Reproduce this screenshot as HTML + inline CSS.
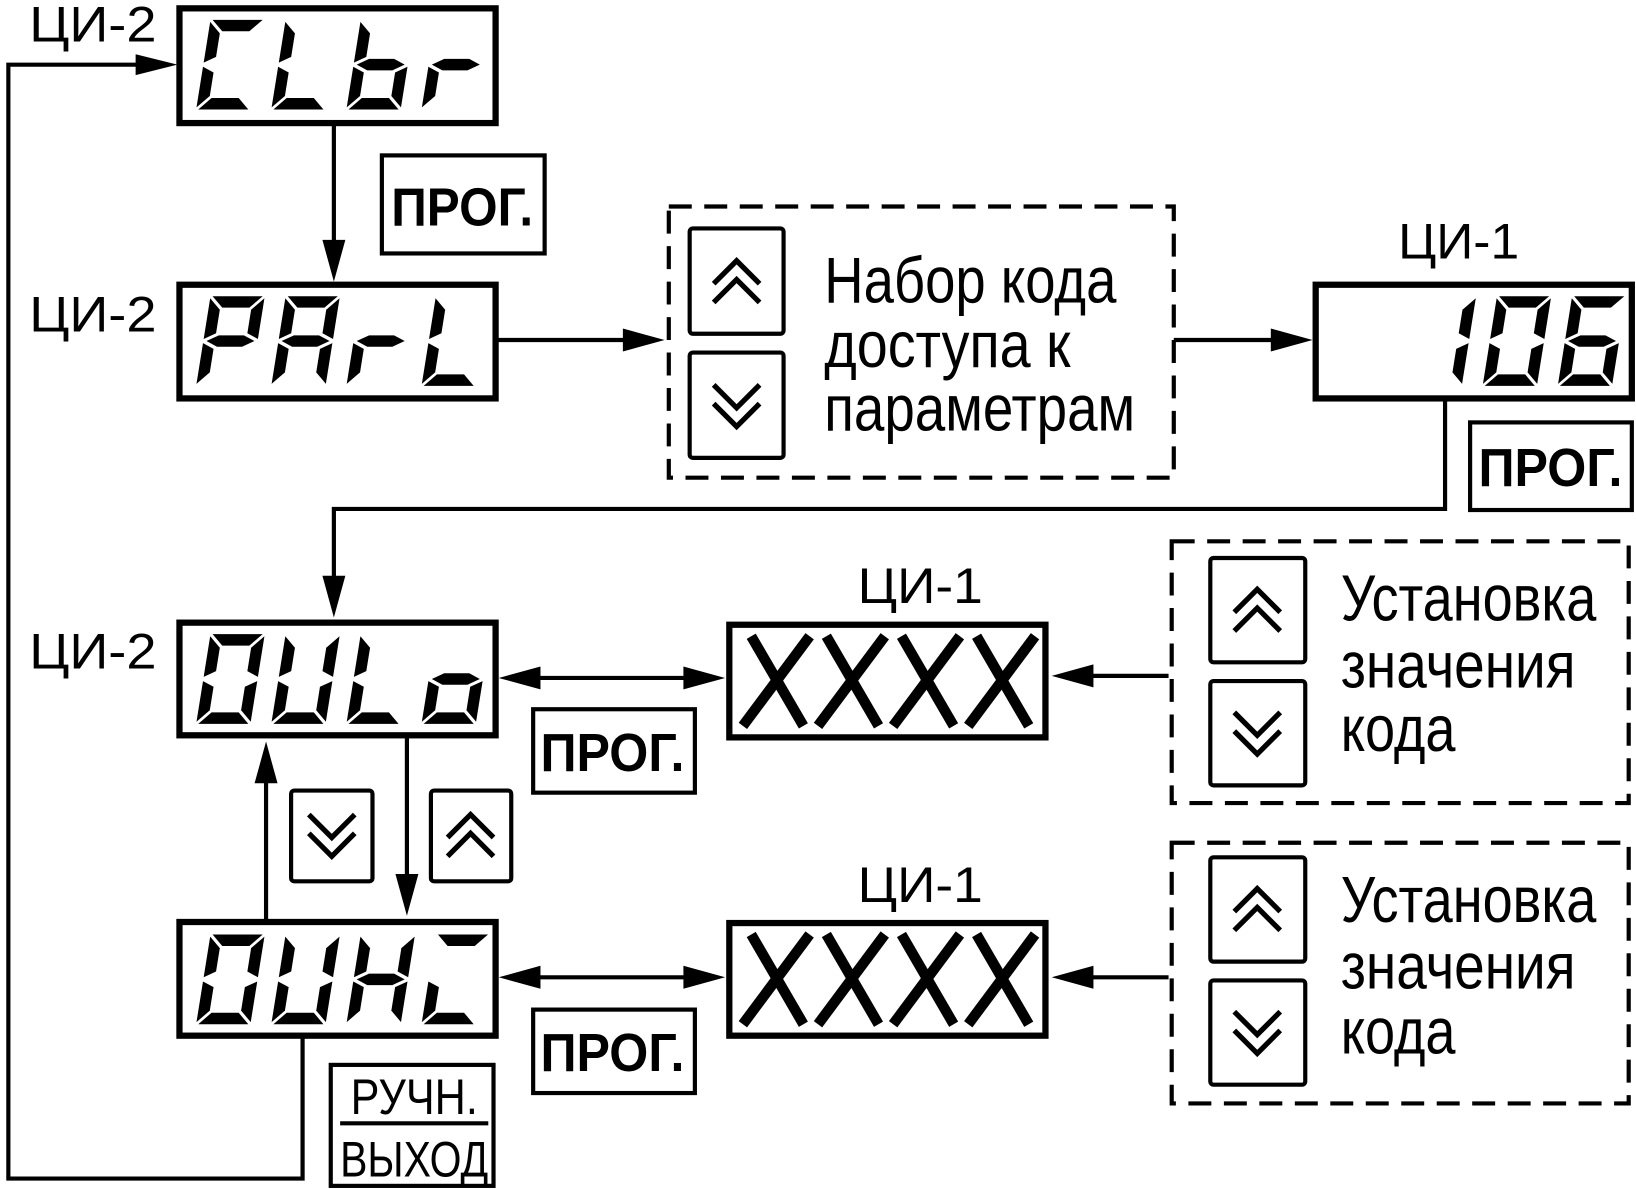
<!DOCTYPE html>
<html><head><meta charset="utf-8"><style>
html,body{margin:0;padding:0;background:#fff;}
svg{display:block;}
text{font-family:"Liberation Sans",Arial,sans-serif;fill:#000;}
</style></head><body>
<svg id="s" width="1636" height="1189" viewBox="0 0 1568 1140" preserveAspectRatio="none" xmlns="http://www.w3.org/2000/svg">
<g fill="none" stroke="#000" stroke-width="6">
<rect x="172" y="8" width="303" height="110"/>
<rect x="172" y="273" width="303" height="109"/>
<rect x="1261" y="273" width="303" height="109"/>
<rect x="172" y="597" width="303" height="108"/>
<rect x="699" y="599" width="303" height="108"/>
<rect x="172" y="884" width="303" height="109"/>
<rect x="699" y="885" width="303" height="108"/>
</g>
<g fill="none" stroke="#000" stroke-width="4">
<rect x="366" y="149" width="156" height="94"/>
<rect x="1409" y="405" width="155" height="84"/>
<rect x="511" y="680" width="155" height="80"/>
<rect x="511" y="968" width="155" height="80"/>
<rect x="317" y="1021" width="156" height="116"/>
<rect x="661" y="219" width="90" height="101" rx="3"/>
<rect x="661" y="338" width="90" height="101" rx="3"/>
<rect x="1160" y="535" width="91" height="100" rx="3"/>
<rect x="1160" y="653" width="91" height="100" rx="3"/>
<rect x="1160" y="822" width="91" height="100" rx="3"/>
<rect x="1160" y="940" width="91" height="100" rx="3"/>
<rect x="279" y="758" width="78" height="87" rx="3"/>
<rect x="413" y="758" width="77" height="87" rx="3"/>
</g>
<g fill="none" stroke="#000" stroke-width="4" stroke-dasharray="22,12">
<rect x="641" y="198" width="484" height="260"/>
<rect x="1123" y="519" width="438" height="251"/>
<rect x="1123" y="808" width="438" height="250"/>
</g>
<g fill="none" stroke="#000" stroke-width="5" id="chev"></g>
<g fill="none" stroke="#000" stroke-width="4">
<polyline points="160,62 8,62 8,1130 290,1130 290,995"/>
<line x1="320" y1="118" x2="320" y2="235"/>
<line x1="475" y1="326" x2="605" y2="326"/>
<line x1="1125" y1="326" x2="1225" y2="326"/>
<polyline points="1385,382 1385,488 320,488 320,560"/>
<line x1="510" y1="650" x2="665" y2="650"/>
<line x1="510" y1="937" x2="665" y2="937"/>
<line x1="1120" y1="648" x2="1040" y2="648"/>
<line x1="1120" y1="937" x2="1040" y2="937"/>
<line x1="255" y1="883" x2="255" y2="745"/>
<line x1="390" y1="705" x2="390" y2="845"/>
</g>
<g fill="#000">
<polygon points="170,62 130,52 130,72"/>
<polygon points="320,270 309,230 331,230"/>
<polygon points="637,326 597,315 597,337"/>
<polygon points="1258,326 1218,315 1218,337"/>
<polygon points="320,592 309,552 331,552"/>
<polygon points="478,650 518,639 518,661"/>
<polygon points="695,650 655,639 655,661"/>
<polygon points="478,937 518,926 518,948"/>
<polygon points="695,937 655,926 655,948"/>
<polygon points="1008,648 1048,637 1048,659"/>
<polygon points="1008,937 1048,926 1048,948"/>
<polygon points="255,711 244,751 266,751"/>
<polygon points="390,878 379,838 401,838"/>
</g>
<g id="seg" fill="#000"></g>
<g font-size="48">
<text x="28" y="40" textLength="122" lengthAdjust="spacingAndGlyphs">ЦИ-2</text>
<text x="28" y="318" textLength="122" lengthAdjust="spacingAndGlyphs">ЦИ-2</text>
<text x="28" y="641" textLength="122" lengthAdjust="spacingAndGlyphs">ЦИ-2</text>
<text x="1340" y="248" textLength="116" lengthAdjust="spacingAndGlyphs">ЦИ-1</text>
<text x="822" y="578" textLength="120" lengthAdjust="spacingAndGlyphs">ЦИ-1</text>
<text x="822" y="865" textLength="120" lengthAdjust="spacingAndGlyphs">ЦИ-1</text>
</g>
<g font-weight="bold" font-size="52">
<text x="375" y="216" textLength="136" lengthAdjust="spacingAndGlyphs">ПРОГ.</text>
<text x="1417" y="466" textLength="138" lengthAdjust="spacingAndGlyphs">ПРОГ.</text>
<text x="518" y="739" textLength="138" lengthAdjust="spacingAndGlyphs">ПРОГ.</text>
<text x="518" y="1027" textLength="138" lengthAdjust="spacingAndGlyphs">ПРОГ.</text>
</g>
<g font-size="48">
<text x="336" y="1068" textLength="122" lengthAdjust="spacingAndGlyphs">РУЧН.</text>
<text x="326" y="1128" textLength="142" lengthAdjust="spacingAndGlyphs">ВЫХОД</text>
</g>
<line x1="326" y1="1077" x2="468" y2="1077" stroke="#000" stroke-width="4"/>
<g font-size="62">
<text x="790" y="290" textLength="280" lengthAdjust="spacingAndGlyphs">Набор кода</text>
<text x="790" y="352" textLength="236" lengthAdjust="spacingAndGlyphs">доступа к</text>
<text x="790" y="413" textLength="298" lengthAdjust="spacingAndGlyphs">параметрам</text>
<text x="1285" y="595" textLength="245" lengthAdjust="spacingAndGlyphs">Установка</text>
<text x="1285" y="659" textLength="225" lengthAdjust="spacingAndGlyphs">значения</text>
<text x="1285" y="720" textLength="110" lengthAdjust="spacingAndGlyphs">кода</text>
<text x="1285" y="884" textLength="245" lengthAdjust="spacingAndGlyphs">Установка</text>
<text x="1285" y="948" textLength="225" lengthAdjust="spacingAndGlyphs">значения</text>
<text x="1285" y="1010" textLength="110" lengthAdjust="spacingAndGlyphs">кода</text>
</g>
</svg>
<script>
(function(){
var NS="http://www.w3.org/2000/svg";
var segG=document.getElementById("seg"), chG=document.getElementById("chev");
var W=52,H=86,t=11,sl=0.16;
function P(x0,y0,pts){var p=document.createElementNS(NS,"polygon");
 p.setAttribute("points",pts.map(function(q){return (x0+q[0]+(H-q[1])*sl)+","+(y0+q[1]);}).join(" "));segG.appendChild(p);}
var h=H/2;
var S={
a:[[2,0],[W-2,0],[W-t-2,t],[t+2,t]],
d:[[t+2,H-t],[W-t-2,H-t],[W-2,H],[2,H]],
g:[[3,h],[t+3,h-t/2],[W-t-3,h-t/2],[W-3,h],[W-t-3,h+t/2],[t+3,h+t/2]],
f:[[0,2],[t,t+2],[t,h-t/2-2],[0,h-2]],
e:[[0,h+2],[t,h+t/2+2],[t,H-t-2],[0,H-2]],
b:[[W,2],[W,h-2],[W-t,h-t/2-2],[W-t,t+2]],
c:[[W,h+2],[W,H-2],[W-t,H-t-2],[W-t,h+t/2+2]]
};
function ch(x0,y0,segs){
 if(segs==="X"){
  var XW=58;
  [[[8,0],[XW,H]],[[XW+6,0],[0,H]]].forEach(function(l){
   var L=document.createElementNS(NS,"line");
   L.setAttribute("x1",x0+l[0][0]);L.setAttribute("y1",y0+l[0][1]);
   L.setAttribute("x2",x0+l[1][0]);L.setAttribute("y2",y0+l[1][1]);
   L.setAttribute("stroke","#000");L.setAttribute("stroke-width","10");segG.appendChild(L);});
  return;}
 segs.split("").forEach(function(s){P(x0,y0,S[s]);});
}
function row(x0,y0,arr,pitch){arr.forEach(function(s,i){if(s)ch(x0+i*pitch,y0,s);});}
row(188,19,["afed","fed","fedcg","eg"],72);
row(188,284,["abfge","abcefg","eg","fed"],72);
row(1277,284,["","bc","abcdef","afgedc"],72);
row(188,608,["abcdef","bcdef","fed","cdeg"],72);
row(188,896,["abcdef","bcdef","bcefg","aed"],72);
row(712,610,["X","X","X","X"],72);
row(712,896,["X","X","X","X"],72);
function chev(cx,cy,up){
 for(var k=0;k<2;k++){
  var pl=document.createElementNS(NS,"polyline");
  var d=up?-1:1;var y=cy+(k*18-9);
  pl.setAttribute("points",(cx-22)+","+(y-d*11)+" "+cx+","+(y+d*11)+" "+(cx+22)+","+(y-d*11));
  chG.appendChild(pl);}
}
chev(706,270,true);chev(706,389,false);
chev(1205,585,true);chev(1205,703,false);
chev(1205,872,true);chev(1205,990,false);
chev(318,801,false);chev(451,801,true);
})();
</script>
</body></html>
